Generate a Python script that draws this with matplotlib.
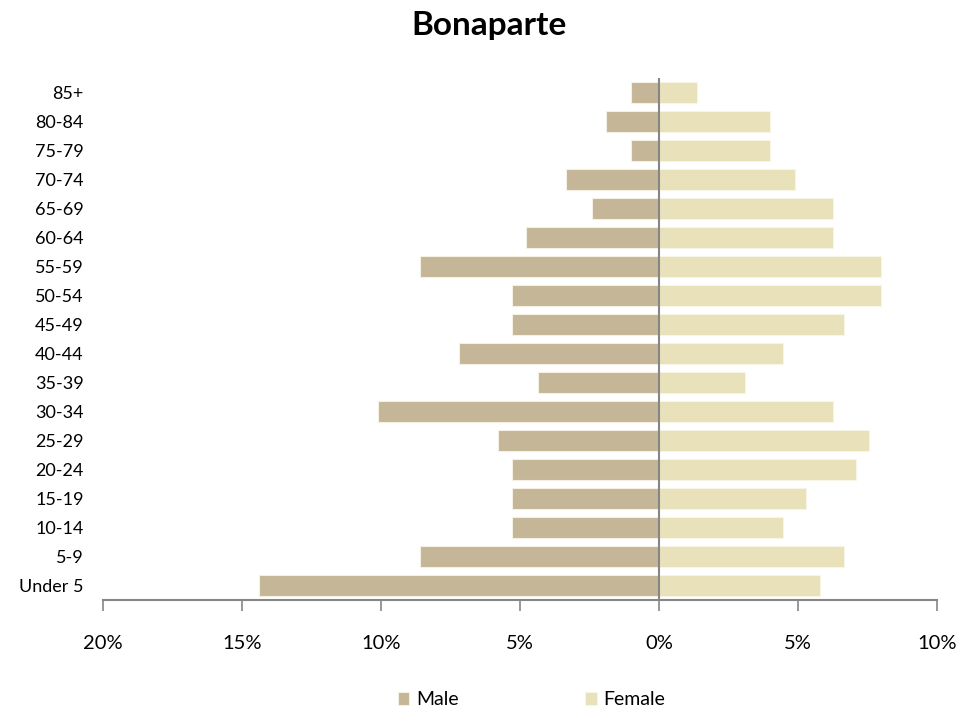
import numpy as np
import matplotlib.pyplot as plt

plt.rcParams['font.family'] = ['Lato', 'DejaVu Sans']

ages = ['Under 5', '5-9', '10-14', '15-19', '20-24', '25-29', '30-34', '35-39',
        '40-44', '45-49', '50-54', '55-59', '60-64', '65-69', '70-74', '75-79',
        '80-84', '85+']
male = [14.4, 8.6, 5.3, 5.3, 5.3, 5.8, 10.1, 4.35, 7.2, 5.3, 5.3, 8.6, 4.8,
        2.4, 3.35, 1.0, 1.9, 1.0]
female = [5.8, 6.65, 4.45, 5.3, 7.1, 7.55, 6.25, 3.1, 4.45, 6.65, 8.0, 8.0,
          6.25, 6.25, 4.9, 4.0, 4.0, 1.35]
xticks = [-20, -15, -10, -5, 0, 5, 10]

male_color = '#C4B696'
female_color = '#E8E1B9'
grey = '#868686'

fig = plt.figure(figsize=(9.79, 7.13), dpi=100)
ax = fig.add_axes([103 / 979, 1 - 600 / 713, 834 / 979, 522 / 713])

y = np.arange(len(ages))
ax.barh(y, -np.array(male), height=0.72, color=male_color,
        edgecolor='#F4F0E4', linewidth=0.8, label='Male')
ax.barh(y, female, height=0.72, color=female_color,
        edgecolor='#F8F5E6', linewidth=0.8, label='Female')

ax.set_xlim(-20, 10)
ax.set_ylim(-0.5, len(ages) - 0.5)
ax.axvline(0, color=grey, linewidth=1.5)

ax.set_xticks(xticks)
ax.set_xticklabels([f'{abs(t)}%' for t in xticks], fontsize=14.5)
ax.set_yticks(y)
ax.set_yticklabels(ages, fontsize=13)

for s in ['top', 'right', 'left']:
    ax.spines[s].set_visible(False)
ax.spines['bottom'].set_color(grey)
ax.spines['bottom'].set_linewidth(1.5)
ax.tick_params(axis='x', direction='out', length=8, width=1.2, color=grey, pad=17)
ax.tick_params(axis='y', length=0, pad=14)

fig.suptitle('Bonaparte', fontsize=24, fontweight='bold', y=0.985)

fig.legend(loc='lower center', ncol=2, frameon=False, fontsize=14,
           handlelength=0.6, handleheight=0.6, handletextpad=0.35,
           columnspacing=6.5, bbox_to_anchor=(0.543, -0.018))

fig.savefig('out.png', dpi=100)
